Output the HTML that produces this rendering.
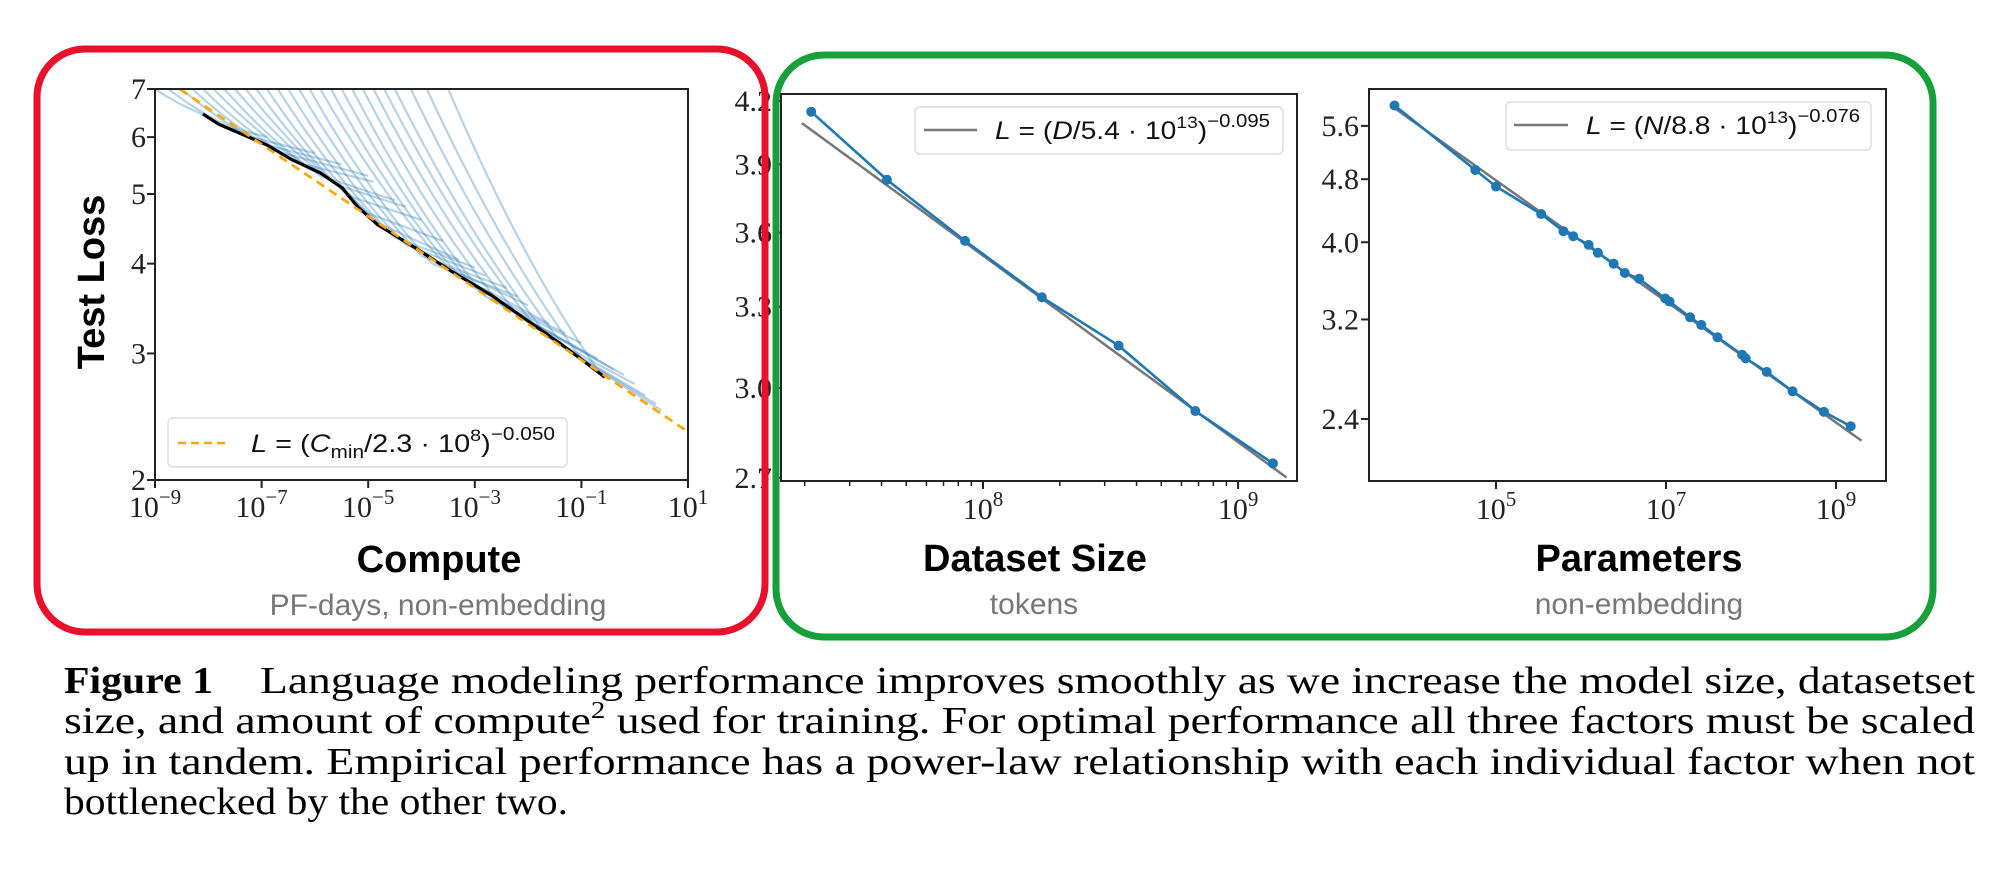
<!DOCTYPE html>
<html><head><meta charset="utf-8">
<style>
html,body{margin:0;padding:0;background:#fff;}
svg{display:block;}
.tick{font-family:"Liberation Serif",serif;font-size:30px;fill:#222;}
.title{font-family:"Liberation Sans",sans-serif;font-weight:bold;font-size:38px;fill:#000;}
.sub{font-family:"Liberation Sans",sans-serif;font-size:30px;fill:#777;}
.leg{font-family:"Liberation Sans",sans-serif;font-size:25px;fill:#111;}
.cap{font-family:"Liberation Serif",serif;font-size:38px;fill:#000;}
</style></head>
<body>
<svg id="fig" width="2000" height="884" viewBox="0 0 2000 884" xmlns="http://www.w3.org/2000/svg">
<defs>
<clipPath id="clip1"><rect x="155" y="89" width="533" height="391"/></clipPath>
<clipPath id="clip2"><rect x="781" y="94" width="516" height="387"/></clipPath>
<clipPath id="clip3"><rect x="1369" y="89" width="517" height="392"/></clipPath>
</defs>
<g id="g1"></g>
<g id="g2"></g>
<g id="g3"></g>

<text class="title" x="439" y="572" text-anchor="middle">Compute</text>
<text class="sub" x="438" y="615" text-anchor="middle">PF-days, non-embedding</text>
<text class="title" transform="translate(104,282) rotate(-90)" text-anchor="middle" font-size="36">Test Loss</text>
<text class="title" x="1035" y="571" text-anchor="middle">Dataset Size</text>
<text class="sub" x="1034" y="614" text-anchor="middle">tokens</text>
<text class="title" x="1639" y="571" text-anchor="middle">Parameters</text>
<text class="sub" x="1639" y="614" text-anchor="middle">non-embedding</text>

<g>
<rect x="168" y="418" width="399" height="49" rx="5" fill="#fff" fill-opacity="0.85" stroke="#ddd" stroke-width="1.5"/>
<line x1="178" y1="443" x2="230" y2="443" stroke="#ffa500" stroke-width="2.5" stroke-dasharray="8,5"/>
<text class="leg" x="251" y="452" textLength="304" lengthAdjust="spacingAndGlyphs"><tspan font-style="italic">L</tspan> = (<tspan font-style="italic">C</tspan><tspan font-size="18" dy="6">min</tspan><tspan dy="-6">/2.3 · 10</tspan><tspan font-size="17" dy="-11">8</tspan><tspan dy="11">)</tspan><tspan font-size="18" dy="-12">−0.050</tspan></text>
</g>
<g>
<rect x="915" y="107" width="368" height="47" rx="5" fill="#fff" fill-opacity="0.85" stroke="#ddd" stroke-width="1.5"/>
<line x1="924" y1="130" x2="977" y2="130" stroke="#777" stroke-width="2.5"/>
<text class="leg" x="995" y="139" textLength="275" lengthAdjust="spacingAndGlyphs"><tspan font-style="italic">L</tspan> = (<tspan font-style="italic">D</tspan>/5.4 · 10<tspan font-size="17" dy="-11">13</tspan><tspan dy="11">)</tspan><tspan font-size="18" dy="-12">−0.095</tspan></text>
</g>
<g>
<rect x="1506" y="102" width="365" height="48" rx="5" fill="#fff" fill-opacity="0.85" stroke="#ddd" stroke-width="1.5"/>
<line x1="1514" y1="125" x2="1568" y2="125" stroke="#777" stroke-width="2.5"/>
<text class="leg" x="1586" y="134" textLength="274" lengthAdjust="spacingAndGlyphs"><tspan font-style="italic">L</tspan> = (<tspan font-style="italic">N</tspan>/8.8 · 10<tspan font-size="17" dy="-11">13</tspan><tspan dy="11">)</tspan><tspan font-size="18" dy="-12">−0.076</tspan></text>
</g>

<rect x="37" y="49" width="728" height="583" rx="48" fill="none" stroke="#e8102a" stroke-width="7"/>
<rect x="776" y="55" width="1157" height="582" rx="48" fill="none" stroke="#17a03a" stroke-width="7"/>

<g>
<text class="cap" x="64" y="693" font-weight="bold" textLength="149" lengthAdjust="spacingAndGlyphs">Figure 1</text>
<text class="cap" x="260" y="693" textLength="1715" lengthAdjust="spacingAndGlyphs">Language modeling performance improves smoothly as we increase the model size, datasetset</text>
<text class="cap" x="64" y="733" textLength="1911" lengthAdjust="spacingAndGlyphs">size, and amount of compute<tspan font-size="24" dy="-15">2</tspan><tspan dy="15"> used for training.  For optimal performance all three factors must be scaled</tspan></text>
<text class="cap" x="64" y="774" textLength="1911" lengthAdjust="spacingAndGlyphs">up in tandem.  Empirical performance has a power-law relationship with each individual factor when not</text>
<text class="cap" x="64" y="814" textLength="504" lengthAdjust="spacingAndGlyphs">bottlenecked by the other two.</text>
</g>
</svg>

<script>
// ---------- Chart 1 data (Compute) ----------
const c1XTicks = [-9, -7, -5, -3, -1, 1];
const c1YTicks = [2, 3, 4, 5, 6, 7];
const c1FitParams = [2.3e8, 0.050];
const frontierLogC = [-8.1, -7.8, -7.42, -6.9, -6.43, -5.9, -5.49, -5.2, -4.82, -4.1, -3.43, -2.7, -2.08, -1.3, -0.56];
const frontierLoss = [6.46, 6.25, 6.08, 5.85, 5.58, 5.35, 5.10, 4.80, 4.53, 4.20, 3.90, 3.62, 3.36, 3.06, 2.78];
const runTopLogC  = [-9.0,-8.75,-8.5,-8.3,-8.1,-7.9,-7.7,-7.5,-7.3,-7.1,-6.9,-6.7,-6.5,-6.3,-6.1,-5.9,-5.7,-5.5,-5.3,-5.1,-4.9,-4.7,-4.5,-4.2,-3.9,-3.5];
const runJoinLogC = [-8.2,-7.6,-7.2,-6.9,-6.6,-6.2,-5.9,-5.6,-5.3,-5.0,-4.8,-4.5,-4.3,-4.0,-3.8,-3.5,-3.3,-3.0,-2.8,-2.5,-2.2,-1.9,-1.6,-1.3,-1.0,-0.7];
const runJoinLoss = [6.5,6.2,6.0,5.85,5.7,5.5,5.3,5.15,4.95,4.7,4.55,4.35,4.25,4.1,4.0,3.95,3.85,3.7,3.6,3.5,3.4,3.3,3.15,3.05,2.95,2.85];
const runEndLogC  = [-8.1,-6.9,-6.0,-5.5,-5.0,-4.9,-4.5,-4.3,-4.0,-3.6,-3.3,-3.0,-2.8,-2.4,-2.2,-2.0,-1.6,-1.3,-1.0,-0.7,-0.4,-0.2,0.0,0.2,0.4,0.5];
const runEndLoss  = [6.45,6.0,5.7,5.5,5.3,5.2,4.9,4.8,4.6,4.3,4.05,3.95,3.85,3.7,3.6,3.5,3.3,3.2,3.1,2.95,2.85,2.8,2.72,2.62,2.55,2.5];

// ---------- Chart 2 data (Dataset size) ----------
const c2XTicks = [8, 9];
const c2YTicks = [2.7, 3.0, 3.3, 3.6, 3.9, 4.2];
const c2YLabels = ["2.7", "3.0", "3.3", "3.6", "3.9", "4.2"];
const datasetTokens = [2.12e7, 4.2e7, 8.5e7, 1.7e8, 3.4e8, 6.8e8, 1.37e9];
const datasetLoss = [4.148, 3.83, 3.565, 3.337, 3.153, 2.92, 2.746];
const c2FitParams = [5.4e13, 0.095];
const c2FitRange = [7.29, 9.23];

// ---------- Chart 3 data (Parameters) ----------
const c3XTicks = [5, 7, 9];
const c3YTicks = [2.4, 3.2, 4.0, 4.8, 5.6];
const c3YLabels = ["2.4", "3.2", "4.0", "4.8", "5.6"];
const paramCounts = [6.4e3,5.7e4,1.0e5,3.4e5,6.2e5,8.1e5,1.23e6,1.58e6,2.42e6,3.28e6,4.83e6,9.8e6,1.1e7,1.92e7,2.6e7,4.03e7,7.85e7,8.65e7,1.53e8,3.08e8,7.2e8,1.49e9];
const paramLoss = [5.94,4.93,4.70,4.34,4.13,4.07,3.97,3.88,3.76,3.66,3.60,3.40,3.37,3.22,3.15,3.04,2.89,2.86,2.75,2.60,2.45,2.35];
const c3FitParams = [8.8e13, 0.076];
const c3FitRange = [3.8, 9.33];

const NS = "http://www.w3.org/2000/svg";
function mk(tag, attrs, parent) {
  const e = document.createElementNS(NS, tag);
  for (const k in attrs) e.setAttribute(k, attrs[k]);
  parent.appendChild(e);
  return e;
}
function axes(x0, x1, lmin, lmax, y0, y1, vTop, vBot) {
  return {
    x: l => x0 + (l - lmin) / (lmax - lmin) * (x1 - x0),
    y: v => y0 + (Math.log(vTop) - Math.log(v)) / (Math.log(vTop) - Math.log(vBot)) * (y1 - y0),
    x0, x1, y0, y1
  };
}
function frame(g, a) {
  const r = mk('rect', {x: a.x0, y: a.y0, width: a.x1 - a.x0, height: a.y1 - a.y0, fill: 'none', stroke: '#222', 'stroke-width': 2}, g);
  
  
}
function xTickPow(g, a, k, yb) {
  const px = a.x(k);
  mk('line', {x1: px, x2: px, y1: a.y1, y2: a.y1 + 8, stroke: '#222', 'stroke-width': 2}, g);
  const t = mk('text', {x: px, y: yb, 'text-anchor': 'middle', class: 'tick'}, g);
  
  
  const a1 = mk('tspan', {}, t); a1.textContent = '10';
  const a2 = mk('tspan', {dy: -13, 'font-size': 21}, t); a2.textContent = (k < 0 ? '−' + (-k) : '' + k);
}
function yTick(g, a, v, label, xr) {
  const py = a.y(v);
  mk('line', {x1: a.x0 - 8, x2: a.x0, y1: py, y2: py, stroke: '#222', 'stroke-width': 2}, g);
  const t = mk('text', {x: xr, y: py + 10, 'text-anchor': 'end', class: 'tick'}, g);
  
  
  t.textContent = label;
}

// ----- Chart 1 -----
(function () {
  const g = document.getElementById('g1');
  const a = axes(155, 688, -9, 1, 89, 480, 7, 2);
  const pg = mk('g', {'clip-path': 'url(#clip1)'}, g);
  for (let i = 0; i < runTopLogC.length; i++) {
    const x0 = a.x(runTopLogC[i]), y0 = a.y(7);
    const x1 = a.x(runJoinLogC[i]), y1 = a.y(runJoinLoss[i]);
    const x2 = a.x(runEndLogC[i]), y2 = a.y(runEndLoss[i]);
    const cx = x0 + 0.5 * (x1 - x0), cy = y0 + 0.62 * (y1 - y0);
    const p = mk('path', {d: `M${x0},${y0} Q${cx},${cy} ${x1},${y1} L${x2},${y2}`, fill: 'none', stroke: '#1f77b4', 'stroke-opacity': 0.32, 'stroke-width': 2.2}, pg);
    
    
  }
  let d = '';
  frontierLogC.forEach((c, i) => { d += (i ? 'L' : 'M') + a.x(c) + ',' + a.y(frontierLoss[i]); });
  const bl = mk('path', {d, fill: 'none', stroke: '#000', 'stroke-width': 3.2}, pg);
  
  
  let fd = '';
  for (let c = -9; c <= 1.001; c += 0.1) {
    const L = Math.pow(Math.pow(10, c) / c1FitParams[0], -c1FitParams[1]);
    fd += (fd ? 'L' : 'M') + a.x(c) + ',' + a.y(L);
  }
  const fl = mk('path', {d: fd, fill: 'none', stroke: '#ffa500', 'stroke-width': 2.6, 'stroke-dasharray': '9,6'}, pg);
  
  
  frame(g, a);
  c1XTicks.forEach(k => xTickPow(g, a, k, 517));
  c1YTicks.forEach(v => yTick(g, a, v, String(v), 146));
})();

// ----- Chart 2 -----
(function () {
  const g = document.getElementById('g2');
  const a = axes(781, 1297, 7.208, 9.231, 94, 481, 4.235, 2.69);
  const pg = mk('g', {'clip-path': 'url(#clip2)'}, g);
  let fd = '';
  for (let l = c2FitRange[0]; l <= c2FitRange[1] + 1e-9; l += 0.05) {
    const L = Math.pow(Math.pow(10, l) / c2FitParams[0], -c2FitParams[1]);
    fd += (fd ? 'L' : 'M') + a.x(l) + ',' + a.y(L);
  }
  const fl = mk('path', {d: fd, fill: 'none', stroke: '#777', 'stroke-width': 2.5}, pg);
  
  
  let d = '';
  datasetTokens.forEach((v, i) => { d += (i ? 'L' : 'M') + a.x(Math.log10(v)) + ',' + a.y(datasetLoss[i]); });
  const dl = mk('path', {d, fill: 'none', stroke: '#1f77b4', 'stroke-width': 2.6}, pg);
  
  
  datasetTokens.forEach((v, i) => {
    const c = mk('circle', {cx: a.x(Math.log10(v)), cy: a.y(datasetLoss[i]), r: 5, fill: '#1f77b4'}, pg);
    
    
  });
  frame(g, a);
  for (let e = 7; e <= 9; e++) for (let m = 2; m <= 9; m++) {
    const l = e + Math.log10(m);
    if (l < 7.208 || l > 9.231) continue;
    mk('line', {x1: a.x(l), x2: a.x(l), y1: a.y1, y2: a.y1 + 5, stroke: '#222', 'stroke-width': 1.5}, g);
  }
  c2XTicks.forEach(k => xTickPow(g, a, k, 519));
  c2YTicks.forEach((v, i) => yTick(g, a, v, c2YLabels[i], 772));
})();

// ----- Chart 3 -----
(function () {
  const g = document.getElementById('g3');
  const a = axes(1369, 1886, 3.506, 9.588, 89, 481, 6.23, 2.006);
  const pg = mk('g', {'clip-path': 'url(#clip3)'}, g);
  let fd = '';
  for (let l = c3FitRange[0]; l <= c3FitRange[1] + 1e-9; l += 0.05) {
    const L = Math.pow(Math.pow(10, l) / c3FitParams[0], -c3FitParams[1]);
    fd += (fd ? 'L' : 'M') + a.x(l) + ',' + a.y(L);
  }
  const fl = mk('path', {d: fd, fill: 'none', stroke: '#777', 'stroke-width': 2.5}, pg);
  
  
  let d = '';
  paramCounts.forEach((v, i) => { d += (i ? 'L' : 'M') + a.x(Math.log10(v)) + ',' + a.y(paramLoss[i]); });
  const dl = mk('path', {d, fill: 'none', stroke: '#1f77b4', 'stroke-width': 2.6}, pg);
  
  
  paramCounts.forEach((v, i) => {
    const c = mk('circle', {cx: a.x(Math.log10(v)), cy: a.y(paramLoss[i]), r: 5, fill: '#1f77b4'}, pg);
    
    
  });
  frame(g, a);
  c3XTicks.forEach(k => xTickPow(g, a, k, 519));
  c3YTicks.forEach((v, i) => yTick(g, a, v, c3YLabels[i], 1359));
})();
</script>
</body></html>
